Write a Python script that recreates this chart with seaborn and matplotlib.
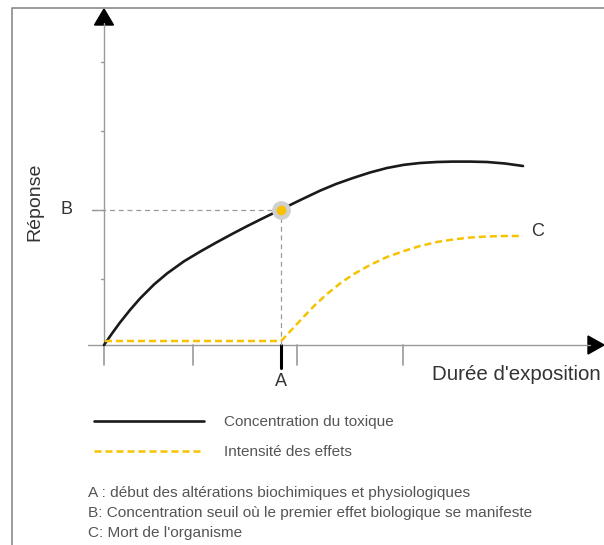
import matplotlib
matplotlib.use("Agg")
import matplotlib.pyplot as plt
from matplotlib import font_manager
from matplotlib.patches import Polygon
import pandas as pd
import seaborn as sns

# curves (duration units, response units)
conc_x = [0, 8, 16, 26, 36, 50, 63, 80, 96, 112, 129, 143, 156, 166, 177, 196, 216,
          232, 249, 266, 283, 300, 316, 333, 349, 366, 383, 401, 419]
conc_y = [0, 11.5, 22.5, 35, 46.5, 60.5, 71.5, 83.7, 93.3, 102.3, 111.5, 118.8, 125.3,
          130.2, 135.5, 144.8, 154.3, 161, 167, 172.5, 177, 180.2, 182, 183, 183.4,
          183.4, 183, 181.5, 179]
eff_x = [1, 177, 180, 186, 193, 199, 211, 223, 236, 249, 266, 283, 300, 316, 333,
         349, 366, 383, 401, 419]
eff_y = [4, 4, 7, 13.5, 21, 27.5, 40, 51, 61.5, 70.5, 80, 88, 94, 99, 103,
         105.5, 107.5, 108.5, 109, 109]

x_ticks = [0, 89, 193, 299]
y_ticks = [66, 214, 283]
point_A = 177
point_B = 135

legend_labels = ["Concentration du toxique", "Intensité des effets"]
notes = ["A : début des altérations biochimiques et physiologiques",
         "B: Concentration seuil où le premier effet biologique se manifeste",
         "C: Mort de l'organisme"]

sns.set_style("white")
names = {f.name for f in font_manager.fontManager.ttflist}
narrow = "Liberation Sans Narrow" if "Liberation Sans Narrow" in names else "Liberation Sans"
plt.rcParams["font.family"] = ["Liberation Sans", "DejaVu Sans"]

yellow = "#f7c200"
grey = "#9a9a9a"
txt = "#333333"

conc = pd.DataFrame({"duree": conc_x, "reponse": conc_y})
eff = pd.DataFrame({"duree": eff_x, "reponse": eff_y})

fig = plt.figure(figsize=(6.04, 5.45), dpi=100)
ax = fig.add_axes([0, 0, 1, 1])
ax.set_xlim(-104, 500)
ax.set_ylim(-200, 345)
ax.axis("off")

# frame
ax.plot([-92, -92, 500], [-200, 337, 337], color="#8a8a8a", lw=1.2, clip_on=False)

# axes with arrows
ax.plot([0, 0], [0, 322], color=grey, lw=1.0)
ax.plot([-16, 486], [0, 0], color=grey, lw=1.0)
ax.add_patch(Polygon([[0, 336], [-9.5, 320], [9.5, 320]], color="black"))
ax.add_patch(Polygon([[500, 0], [484, 9], [484, -9]], color="black"))

for t in y_ticks:
    ax.plot([-3, 0], [t, t], color=grey, lw=1.0)
ax.plot([-12, 0], [point_B, point_B], color=grey, lw=1.0)
for t in x_ticks:
    ax.plot([t, t], [0, -20], color=grey, lw=1.2)
ax.plot([point_A, point_A], [0, -23], color="black", lw=2.2)

# guides to the threshold point
ax.plot([-12, point_A], [point_B, point_B], color=grey, lw=0.9, ls=(0, (4, 3)))
ax.plot([point_A, point_A], [0, point_B], color=grey, lw=0.9, ls=(0, (4, 3)))

sns.lineplot(data=conc, x="duree", y="reponse", color="#1a1a1a", lw=1.9,
             ax=ax, label=legend_labels[0])
sns.lineplot(data=eff, x="duree", y="reponse", color=yellow, lw=1.8,
             linestyle=(0, (2.8, 1.6)), ax=ax, label=legend_labels[1])

ax.plot([point_A], [point_B], "o", ms=12.5, color="#d0d0d0", zorder=5)
ax.plot([point_A], [point_B], "o", ms=6, color=yellow, zorder=6)

ax.text(-37, point_B, "B", ha="center", va="center", fontsize=13, color=txt)
ax.text(point_A, -36, "A", ha="center", va="center", fontsize=13, color=txt)
ax.text(434, 113, "C", ha="center", va="center", fontsize=13, color=txt)
ax.text(-69, 143, "Réponse", rotation=90, ha="center", va="center", fontsize=14, color=txt)
ax.text(328, -30, "Durée d'exposition", ha="left", va="center", fontsize=14.8, color=txt)

leg = ax.legend(loc="upper left", bbox_to_anchor=(94 / 604, 1 - 415 / 545),
                bbox_transform=fig.transFigure, frameon=False, borderpad=0,
                borderaxespad=0, handlelength=7.2, handletextpad=1.3,
                labelspacing=1.08, prop={"family": narrow, "size": 11})
for t in leg.get_texts():
    t.set_color("#555555")

for i, n in enumerate(notes):
    fig.text(88 / 604, 1 - (493 + 20 * i) / 545, n, ha="left", va="center",
             fontsize=11.1, color="#555555", family=narrow)

fig.savefig("out.png", dpi=100)
